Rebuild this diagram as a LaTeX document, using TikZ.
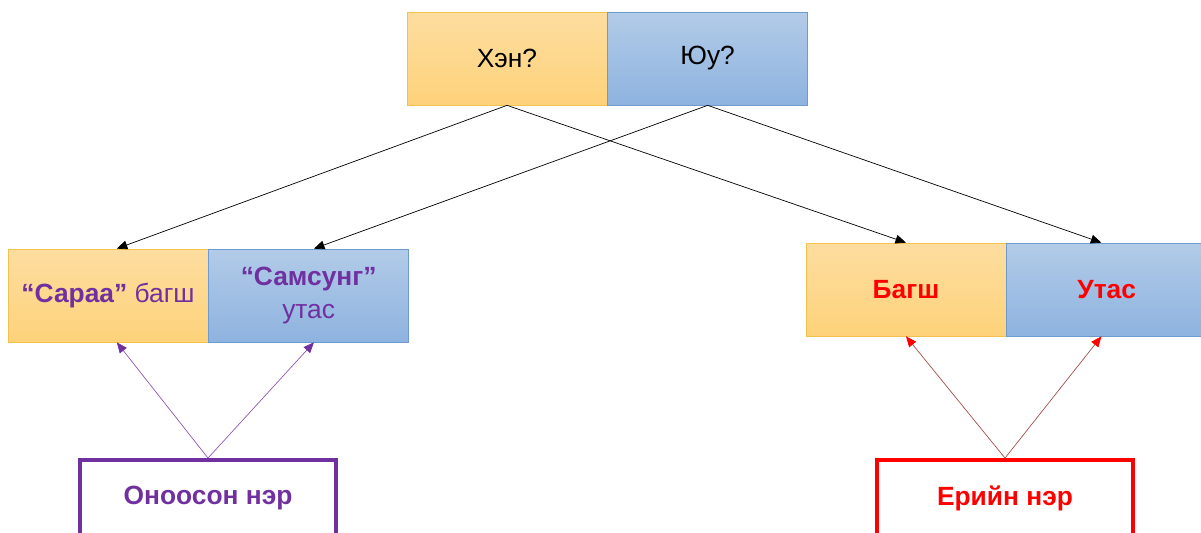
\documentclass[tikz,border=0pt]{standalone}
\usepackage{fontspec}
\setmainfont{Liberation Sans}
\usepackage{xcolor}
\usetikzlibrary{positioning,arrows.meta}
\definecolor{orTop}{HTML}{FDDDA0}
\definecolor{orBot}{HTML}{FDD27A}
\definecolor{orLine}{HTML}{F2C14E}
\definecolor{blTop}{HTML}{B2CBE8}
\definecolor{blBot}{HTML}{8EB3DF}
\definecolor{blLine}{HTML}{6E9BCF}
\definecolor{purp}{HTML}{7030A0}
\definecolor{redLine}{HTML}{A0504A}
\tikzset{
  cell/.style={minimum width=4cm, minimum height=1.86cm, inner sep=0pt, align=center,
    font=\fontsize{15}{19}\selectfont},
  orcell/.style={cell, top color=orTop, bottom color=orBot, draw=orLine},
  blcell/.style={cell, top color=blTop, bottom color=blBot, draw=blLine},
  namebox/.style={draw, line width=2.2pt, fill=white, minimum width=5.12cm, minimum height=1.52cm,
    inner sep=0pt, font=\bfseries\fontsize{15}{19}\selectfont},
  linkto/.style={-{Triangle[length=6pt,width=5pt]}, line width=0.4pt}
}
\begin{document}
\begin{tikzpicture}[x=0.02cm,y=-0.02cm]
\useasboundingbox (0,0) rectangle (1201,533);
\begin{scope}
\clip (0,0) rectangle (1201,533);
% top row
\node[orcell] (who) at (507,58.5) {Хэн?};
\node[blcell, right=0pt of who] (what) {Юу?};
% left pair
\node[orcell, text=purp] (sarah) at (108,295.5) {\textbf{“Сараа”} багш};
\node[blcell, text=purp, right=0pt of sarah] (samsung) {\textbf{“Самсунг”}\\утас};
% right pair
\node[orcell, text=red, font=\bfseries\fontsize{15}{19}\selectfont] (teacher) at (906,289.5) {Багш};
\node[blcell, text=red, font=\bfseries\fontsize{15}{19}\selectfont, right=0pt of teacher] (phone) {Утас};
% names
\node[namebox, draw=purp, text=purp] (proper) at (208,498) {Оноосон нэр};
\node[namebox, draw=red, text=red] (common) at (1005,498) {Ерийн нэр};

\draw[linkto] (who.south) -- ([xshift=5]sarah.north);
\draw[linkto] (who.south) -- (teacher.north);
\draw[linkto] (what.south) -- ([xshift=3]samsung.north);
\draw[linkto] (what.south) -- ([xshift=-3]phone.north);

\draw[linkto, draw=purp!80!white, -{Triangle[length=6pt,width=5pt,color=purp]}] (proper.north) -- ([xshift=5]sarah.south);
\draw[linkto, draw=purp!80!white, -{Triangle[length=6pt,width=5pt,color=purp]}] (proper.north) -- ([xshift=3]samsung.south);
\draw[linkto, draw=redLine, -{Triangle[length=6pt,width=5pt,color=red]}] (common.north) -- (teacher.south);
\draw[linkto, draw=redLine, -{Triangle[length=6pt,width=5pt,color=red]}] (common.north) -- ([xshift=-3]phone.south);
\end{scope}
\end{tikzpicture}
\end{document}
